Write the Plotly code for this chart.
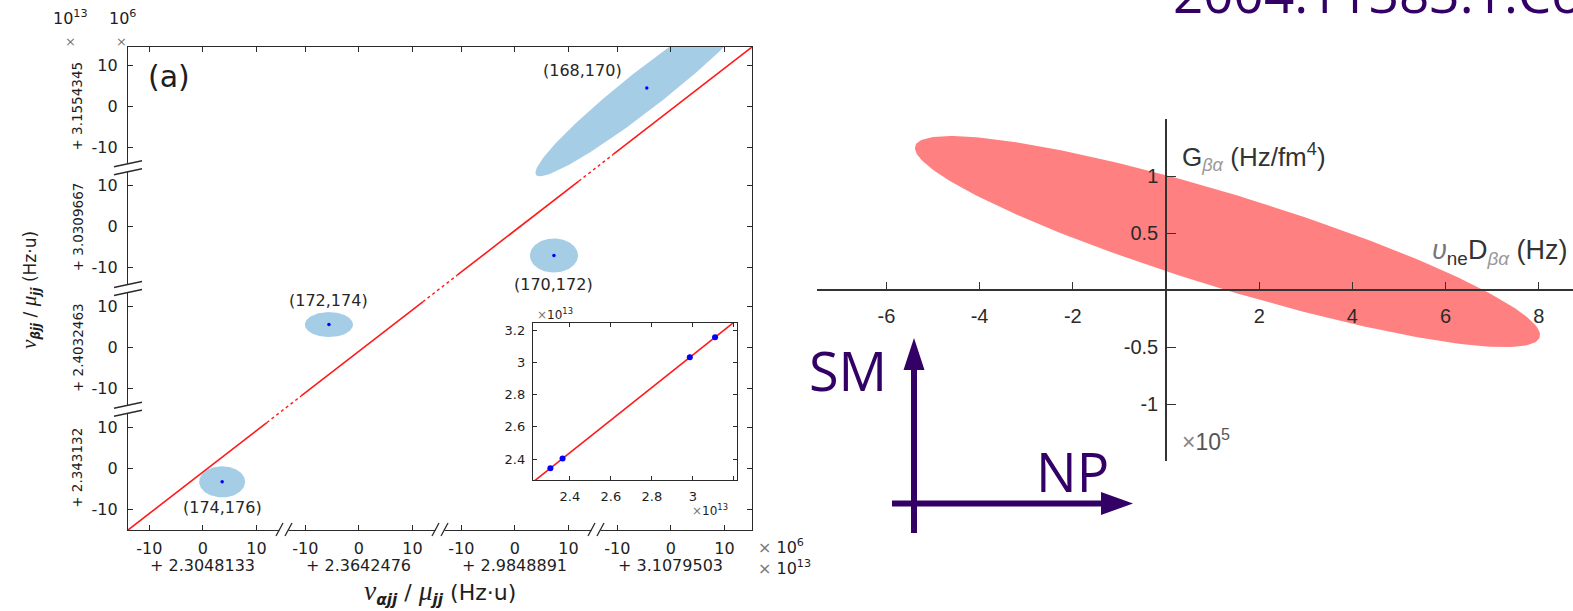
import numpy as np
import plotly.graph_objects as go

W, H = 1573, 611

# ---------------- panel (a): broken-axis isotope-shift plot ----------------
# offsets of the four axis segments (units of 1e13 Hz·u)
x_offsets = [2.3048133, 2.3642476, 2.9848891, 3.1079503]
y_offsets = [2.343132, 2.4032463, 3.0309667, 3.1554345]
x_offset_text = ["+ 2.3048133", "+ 2.3642476", "+ 2.9848891", "+ 3.1079503"]
y_offset_text = ["+ 2.343132", "+ 2.4032463", "+ 3.0309667", "+ 3.1554345"]

# window shown inside each segment (units of 1e6 Hz·u)
x_window = [-14.0, 15.16]
y_window = [-15.05, 14.4]
seg_ticks = [-10, 0, 10]

# isotope pairs: residual position inside their segment (1e6 Hz·u)
pair_labels = ["(174,176)", "(172,174)", "(170,172)", "(168,170)"]
pair_dx = [3.6, -5.6, 7.3, -4.5]
pair_dy = [-3.3, 5.6, -7.0, 4.4]
# uncertainty ellipses as two semi-axis vectors (1e6 Hz·u)
pair_ell_u = [(4.3, 0.0), (4.5, 0.0), (4.5, 0.0), (20.7, 21.2)]
pair_ell_v = [(0.0, 3.8), (0.0, 3.05), (0.0, 4.15), (2.24, -3.72)]

# ---------------- right plot: G vs v_ne D ----------------
g_center = (1.32, 0.425)
g_ell_u = (6.70, -0.838)
g_ell_v = (0.294, 0.393)
g_xticks = [-6, -4, -2, 2, 4, 6, 8]
g_yticks = [-1.5, -1, -0.5, 0.5, 1, 1.5]
g_yticktext = ["", "-1", "-0.5", "0.5", "1", ""]

# ---------------- styling ----------------
AX = "#2a2a2a"
TXT = "#1e1e1e"
BLUE_FILL = "#a6cde6"
PURPLE = "#330066"
F_WIDE = "DejaVu Sans"
F_ARIAL = "Liberation Sans"

XW = x_window[1] - x_window[0]
YW = y_window[1] - y_window[0]


def px_x(i, v):
    return i * XW + (v - x_window[0])


def px_y(i, v):
    return i * YW + (v - y_window[0])


def ellipse(cx, cy, u, v, n=160):
    t = np.linspace(0, 2 * np.pi, n)
    return (cx + u[0] * np.cos(t) + v[0] * np.sin(t),
            cy + u[1] * np.cos(t) + v[1] * np.sin(t))


def pxx(x):
    return x / W


def pxy(y):
    return 1 - y / H


def note(x, y, text, size, family=F_WIDE, color=TXT, xanchor="center", **kw):
    """Text placed at a pixel position of the page."""
    return dict(x=pxx(x), y=pxy(y), xref="paper", yref="paper", text=text,
                xanchor=xanchor, yanchor="middle", showarrow=False,
                font=dict(family=family, size=size, color=color), **kw)


def ratio_title(sub):
    big = "font-family:'Liberation Serif';font-size:1.25em"
    return (f"<span style=\"{big}\"><i>ν</i></span><sub><b><i>{sub}</i></b></sub>"
            f" / <span style=\"{big}\"><i>μ</i></span><sub><b><i>jj</i></b></sub> (Hz·u)")


fig = go.Figure()

# uncertainty ellipses and points
for i in range(4):
    ex, ey = ellipse(pair_dx[i], pair_dy[i], pair_ell_u[i], pair_ell_v[i])
    fig.add_trace(go.Scatter(x=[px_x(i, v) for v in ex], y=[px_y(i, v) for v in ey],
                             mode="lines", fill="toself", fillcolor=BLUE_FILL,
                             line=dict(width=0), hoverinfo="skip", showlegend=False,
                             xaxis="x", yaxis="y"))
fig.add_trace(go.Scatter(x=[px_x(i, pair_dx[i]) for i in range(4)],
                         y=[px_y(i, pair_dy[i]) for i in range(4)],
                         mode="markers", marker=dict(color="#0000ff", size=3.5),
                         showlegend=False, xaxis="x", yaxis="y"))

# fitted line across the broken panel: solid inside diagonal cells, dotted over breaks
gap = 0.11
for i in range(4):
    t0 = i + (gap if i > 0 else 0)
    t1 = i + 1 - (gap if i < 3 else 0)
    fig.add_trace(go.Scatter(x=[t0 * XW, t1 * XW], y=[t0 * YW, t1 * YW], mode="lines",
                             line=dict(color="#ff1a1a", width=1.6), showlegend=False,
                             hoverinfo="skip", xaxis="x", yaxis="y"))
for i in range(1, 4):
    fig.add_trace(go.Scatter(x=[(i - gap) * XW, (i + gap) * XW], y=[(i - gap) * YW, (i + gap) * YW],
                             mode="lines", line=dict(color="#ff1a1a", width=1.4, dash="dot"),
                             showlegend=False, hoverinfo="skip", xaxis="x", yaxis="y"))

# inset: all pairs on absolute scale with linear fit
ins_x = [x_offsets[i] + pair_dx[i] * 1e-7 for i in range(4)]
ins_y = [y_offsets[i] + pair_dy[i] * 1e-7 for i in range(4)]
slope, icpt = np.polyfit(ins_x, ins_y, 1)
ins_xr = [2.22, 3.215]
ins_yr = [2.27, 3.244]
fx = np.array([ins_xr[0], ins_xr[1]])
fig.add_trace(go.Scatter(x=fx, y=slope * fx + icpt, mode="lines",
                         line=dict(color="#ff1a1a", width=1.6), showlegend=False,
                         hoverinfo="skip", xaxis="x2", yaxis="y2"))
fig.add_trace(go.Scatter(x=ins_x, y=ins_y, mode="markers",
                         marker=dict(color="#0000ff", size=6), showlegend=False,
                         xaxis="x2", yaxis="y2"))

# right plot ellipse
gx, gy = ellipse(g_center[0], g_center[1], g_ell_u, g_ell_v, 240)
fig.add_trace(go.Scatter(x=gx, y=gy, mode="lines", fill="toself", fillcolor="#ff8080",
                         line=dict(width=0), hoverinfo="skip", showlegend=False,
                         xaxis="x3", yaxis="y3"))

# ---------------- axes ----------------
main_x_ticks = [px_x(i, v) for i in range(4) for v in seg_ticks]
main_y_ticks = [px_y(i, v) for i in range(4) for v in seg_ticks]
tick_text = [str(v) for _ in range(4) for v in seg_ticks]

common_main = dict(showline=True, linecolor=AX, linewidth=1.3, mirror="ticks",
                   ticks="inside", ticklen=4.5, tickwidth=1.2, tickcolor=AX,
                   showgrid=False, zeroline=False,
                   tickfont=dict(family=F_WIDE, size=16, color=TXT))

r_range_x = [-(1166 - 817) / 46.6, (1573 - 1166) / 46.6]

fig.update_layout(
    width=W, height=H, margin=dict(l=0, r=0, t=0, b=0, autoexpand=False),
    paper_bgcolor="white", plot_bgcolor="rgba(0,0,0,0)",
    xaxis=dict(domain=[pxx(128), pxx(752)], range=[0, 4 * XW], tickvals=main_x_ticks,
               ticktext=tick_text, anchor="y", ticklabelstandoff=4, **common_main),
    yaxis=dict(domain=[pxy(530), pxy(47)], range=[0, 4 * YW], tickvals=main_y_ticks,
               ticktext=tick_text, anchor="x", ticklabelstandoff=6, **common_main),
    xaxis2=dict(domain=[pxx(533), pxx(737)], range=ins_xr, tickvals=[2.4, 2.6, 2.8, 3.0, 3.2],
                ticktext=["2.4", "2.6", "2.8", "3", ""], anchor="y2",
                showline=True, linecolor=AX, linewidth=1.3, mirror="ticks", ticks="inside",
                ticklen=4, tickcolor=AX, showgrid=False, zeroline=False,
                tickfont=dict(family=F_WIDE, size=13, color=TXT), ticklabelstandoff=4),
    yaxis2=dict(domain=[pxy(480), pxy(323)], range=ins_yr, tickvals=[2.4, 2.6, 2.8, 3.0, 3.2],
                ticktext=["2.4", "2.6", "2.8", "3", "3.2"], anchor="x2",
                showline=True, linecolor=AX, linewidth=1.3, mirror="ticks", ticks="inside",
                ticklen=4, tickcolor=AX, showgrid=False, zeroline=False,
                tickfont=dict(family=F_WIDE, size=13, color=TXT), ticklabelstandoff=4),
    xaxis3=dict(domain=[pxx(817), 1.0], range=r_range_x, anchor="free", position=pxy(290),
                tickvals=g_xticks, ticktext=[str(v) for v in g_xticks],
                showline=True, linecolor="#333", linewidth=1.5, ticks="inside", ticklen=7,
                tickcolor="#333", tickwidth=1.3, showgrid=False, zeroline=False,
                tickfont=dict(family=F_ARIAL, size=20, color="#2a2a2a"), ticklabelstandoff=8),
    yaxis3=dict(domain=[pxy(461), pxy(119)], range=[-1.5, 1.5], anchor="free", position=pxx(1166),
                tickvals=g_yticks, ticktext=g_yticktext,
                showline=True, linecolor="#333", linewidth=1.5, ticks="inside", ticklen=9,
                tickcolor="#333", tickwidth=1.3, showgrid=False, zeroline=False,
                tickfont=dict(family=F_ARIAL, size=20, color="#2a2a2a"), ticklabelstandoff=3),
)

shapes = []
ann = []

# inset background
shapes.append(dict(type="rect", xref="paper", yref="paper", x0=pxx(533), x1=pxx(737),
                   y0=pxy(480), y1=pxy(323), fillcolor="white", line=dict(width=0), layer="below"))

# axis-break marks on the bottom and left axes
for i in range(1, 4):
    xb = i * XW
    shapes.append(dict(type="rect", xref="x", yref="paper", xsizemode="pixel", xanchor=xb,
                       x0=-4.5, x1=4.5, y0=pxy(532), y1=pxy(528), fillcolor="white",
                       line=dict(width=0), layer="above"))
    for d in (-4.5, 4.5):
        shapes.append(dict(type="line", xref="x", yref="paper", xsizemode="pixel", xanchor=xb,
                           x0=d - 3.5, x1=d + 3.5, y0=pxy(536), y1=pxy(523),
                           line=dict(color=AX, width=1.3), layer="above"))
    yb = i * YW
    shapes.append(dict(type="rect", xref="paper", yref="y", ysizemode="pixel", yanchor=yb,
                       y0=-4, y1=4, x0=pxx(126), x1=pxx(130), fillcolor="white",
                       line=dict(width=0), layer="above"))
    for d in (-4, 4):
        shapes.append(dict(type="line", xref="paper", yref="y", ysizemode="pixel", yanchor=yb,
                           y0=d - 3, y1=d + 3, x0=pxx(114), x1=pxx(142),
                           line=dict(color=AX, width=1.3), layer="above"))

# segment offset labels
for i in range(4):
    ann.append(dict(x=px_x(i, 0), xref="x", y=pxy(565), yref="paper", text=x_offset_text[i],
                    xanchor="center", yanchor="middle", showarrow=False,
                    font=dict(family=F_WIDE, size=16, color=TXT)))
    ann.append(dict(x=pxx(77.5), xref="paper", y=px_y(i, 0), yref="y", text=y_offset_text[i],
                    xanchor="center", yanchor="middle", textangle=-90, showarrow=False,
                    font=dict(family=F_WIDE, size=13.5, color=TXT)))

# pair labels
label_shift = [(0, -26), (0, 24), (0, -29.5), (-64, 17)]
for i in range(4):
    ann.append(dict(x=px_x(i, pair_dx[i]), y=px_y(i, pair_dy[i]), xref="x", yref="y",
                    text=pair_labels[i], showarrow=False, xanchor="center", yanchor="middle",
                    xshift=label_shift[i][0], yshift=label_shift[i][1],
                    font=dict(family=F_WIDE, size=16, color="#262626")))

ann += [
    note(146, 76, "(a)", 30, xanchor="left"),
    note(756, 546, "<span style='color:#777'>×</span> 10<sup>6</sup>", 16, xanchor="left"),
    note(756, 567, "<span style='color:#777'>×</span> 10<sup>13</sup>", 16, xanchor="left"),
    note(70, 18, "10<sup>13</sup>", 16),
    note(70, 41, "×", 13, color="#777"),
    note(122, 18, "10<sup>6</sup>", 16),
    note(121, 41, "×", 13, color="#777"),
    note(440, 592, ratio_title("αjj"), 22),
    note(30, 290, ratio_title("βjj"), 17, textangle=-90),
    note(535, 314, "<span style='color:#777'>×</span>10<sup>13</sup>", 12, xanchor="left"),
    note(690, 510, "<span style='color:#777'>×</span>10<sup>13</sup>", 12, xanchor="left"),
    # right plot labels
    note(1180, 157, "G<sub><i><span style='color:#999'>βα</span></i></sub> (Hz/fm<sup>4</sup>)",
         26, family=F_ARIAL, color="#333", xanchor="left"),
    note(1430, 252, "<i><span style='color:#777'>υ</span></i><sub>ne</sub>D<sub><i><span style='color:#999'>βα</span></i></sub> (Hz)",
         27, family=F_ARIAL, color="#333", xanchor="left"),
    note(1180, 440, "<span style='color:#888'>×</span>10<sup>5</sup>", 23, family=F_ARIAL,
         color="#555", xanchor="left"),
    # purple overlay
    note(1171, -8, "2004.11383.1.Co", 53, family="Open Sans", color=PURPLE, xanchor="left"),
    note(848, 370, "SM", 54, family="Open Sans", color=PURPLE),
    note(1072, 471, "NP", 54, family="Open Sans", color=PURPLE),
]

# purple axis arrows
shapes += [
    dict(type="line", xref="paper", yref="paper", x0=pxx(914), x1=pxx(914), y0=pxy(533), y1=pxy(366),
         line=dict(color=PURPLE, width=6)),
    dict(type="path", xref="paper", yref="paper",
         path=f"M {pxx(914)},{pxy(338)} L {pxx(903.5)},{pxy(370)} L {pxx(924.5)},{pxy(370)} Z",
         fillcolor=PURPLE, line=dict(width=0)),
    dict(type="line", xref="paper", yref="paper", x0=pxx(892), x1=pxx(1104), y0=pxy(503.5), y1=pxy(503.5),
         line=dict(color=PURPLE, width=6)),
    dict(type="path", xref="paper", yref="paper",
         path=f"M {pxx(1133)},{pxy(503.5)} L {pxx(1101)},{pxy(492)} L {pxx(1101)},{pxy(515)} Z",
         fillcolor=PURPLE, line=dict(width=0)),
]

fig.update_layout(shapes=shapes, annotations=ann)
fig.write_html("out.html")
